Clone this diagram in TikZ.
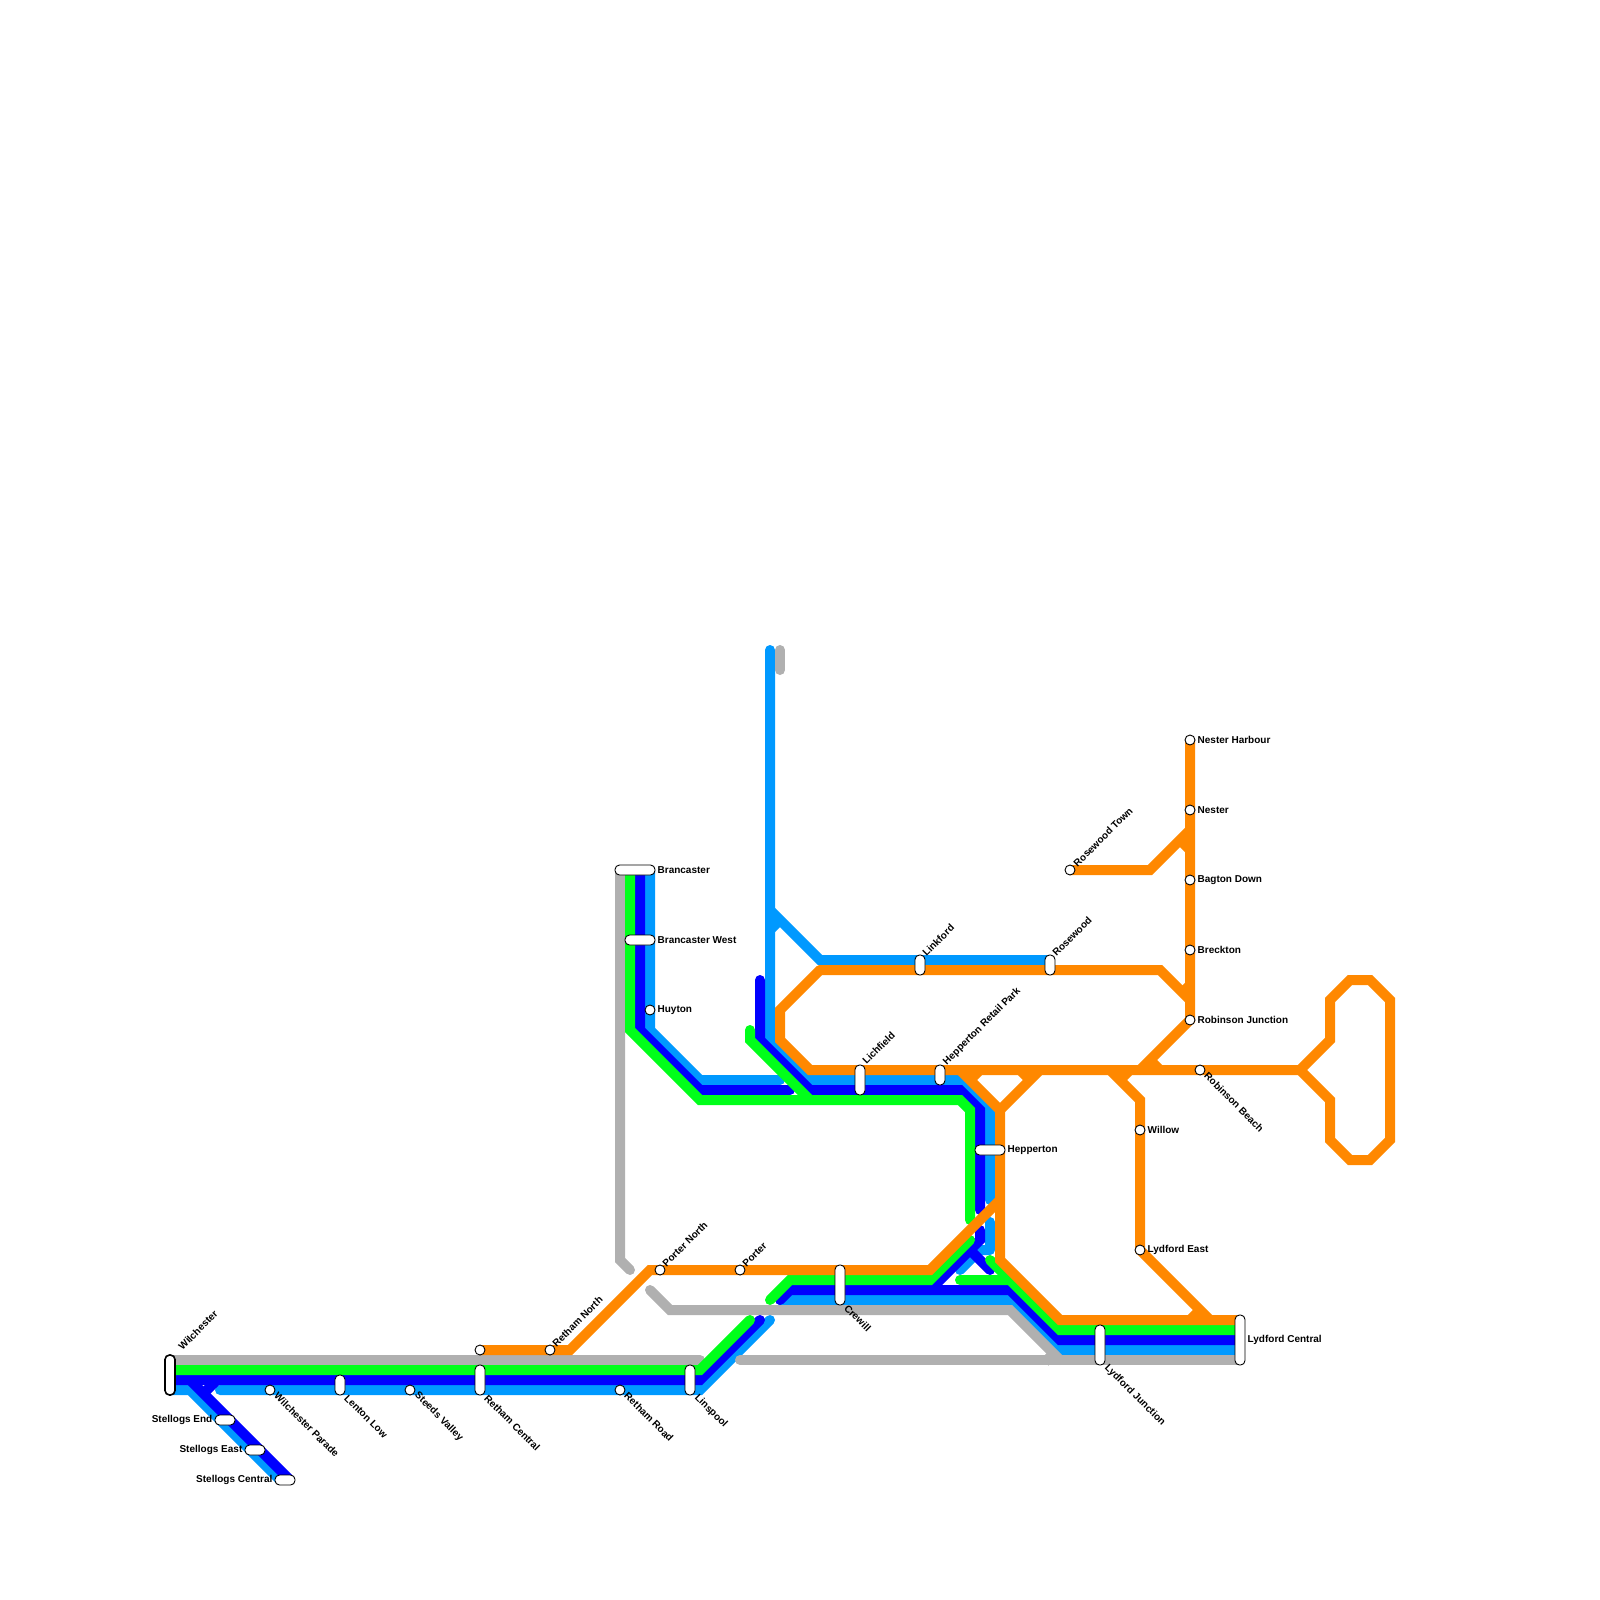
\documentclass[tikz,border=0pt]{standalone}
\usepackage{fontspec}
\setmainfont{Liberation Sans}
\usepackage{tikz}
\usetikzlibrary{positioning, backgrounds}
\definecolor{trackorange}{HTML}{FF8800}
\definecolor{trackgreen}{HTML}{00FF1A}
\definecolor{trackblue}{HTML}{0000FF}
\definecolor{tracksky}{HTML}{0099FF}
\definecolor{trackgrey}{HTML}{B0B0B0}

\begin{document}
\begin{tikzpicture}[
    x=1pt, y=-1pt,
    font=\fontsize{10}{12}\selectfont\bfseries,
    track/.style={line width=10pt, line cap=round, line join=miter},
    stub/.style={line width=10pt, line cap=butt},
    stop/.style={circle, draw, fill=white, line width=0.9pt, inner sep=0pt, minimum size=10pt},
    pill/.style={draw, fill=white, line width=0.9pt, rounded corners=4.5pt, inner sep=0pt},
    pillv/.style={pill, minimum width=10pt, minimum height=#1},
    pillh/.style={pill, minimum height=10pt, minimum width=#1},
    tagup/.style={rotate=45, anchor=west, inner sep=0pt},
    tagdown/.style={rotate=-45, anchor=west, inner sep=0pt},
    tagright/.style={anchor=west, inner sep=0pt, yshift=0.3pt},
    tagleft/.style={anchor=east, inner sep=0pt, yshift=0.3pt}
  ]
    \useasboundingbox (0,0) rectangle (1600,1600);

    % --- Stations: bottom left ---
    \node[pillv=40pt, line width=1.6pt] (wilchester) at (170,1375) {};
    \node[stop] (wilchesterparade) at (270,1390) {};
    \node[pillv=20pt] (lentonlow) at (340,1385) {};
    \node[stop] (steedsvalley) at (410,1390) {};
    \node[pillv=30pt] (rethamcentral) at (480,1380) {};
    \node[stop] (rethamroad) at (620,1390) {};
    \node[pillv=30pt] (linspool) at (690,1380) {};
    \node[pillh=20pt] (stellogsend) at (225,1420) {};
    \node[pillh=20pt] (stellogseast) at (255,1450) {};
    \node[pillh=20pt] (stellogscentral) at (285,1480) {};
    \node[stop] (rethamwest) at (480,1350) {};
    \node[stop] (rethamnorth) at (550,1350) {};
    \node[stop] (porternorth) at (660,1270) {};
    \node[stop] (porter) at (740,1270) {};
    \node[pillv=40pt] (crewill) at (840,1285) {};

    % --- Stations: middle ---
    \node[pillh=40pt] (brancaster) at (635,870) {};
    \node[pillh=30pt] (brancasterwest) at (640,940) {};
    \node[stop] (huyton) at (650,1010) {};
    \node[pillv=30pt] (lichfield) at (860,1080) {};
    \node[pillv=20pt] (hepretail) at (940,1075) {};
    \node[pillv=20pt] (linkford) at (920,965) {};
    \node[pillv=20pt] (rosewood) at (1050,965) {};
    \node[stop] (rosewoodtown) at (1070,870) {};
    \node[pillh=30pt] (hepperton) at (990,1150) {};

    % --- Stations: right ---
    \node[stop] (nesterharbour) at (1190,740) {};
    \node[stop] (nester) at (1190,810) {};
    \node[stop] (bagtondown) at (1190,880) {};
    \node[stop] (breckton) at (1190,950) {};
    \node[stop] (robinsonjunction) at (1190,1020) {};
    \node[stop] (robinsonbeach) at (1200,1070) {};
    \node[stop] (willow) at (1140,1130) {};
    \node[stop] (lydfordeast) at (1140,1250) {};
    \node[pillv=40pt] (lydfordjunction) at (1100,1345) {};
    \node[pillv=50pt] (lydfordcentral) at (1240,1340) {};

    % --- Station names ---
    \node[tagup] (t1) at ([shift={(10,-6)}]wilchester.north) {Wilchester};
    \node[tagdown] (t2) at ([shift={(6,4)}]wilchesterparade.center) {Wilchester Parade};
    \node[tagdown] (t3) at ([shift={(6,1)}]lentonlow.south) {Lenton Low};
    \node[tagdown] (t4) at ([shift={(6,4)}]steedsvalley.center) {Steeds Valley};
    \node[tagdown] (t5) at ([shift={(6,1)}]rethamcentral.south) {Retham Central};
    \node[tagdown] (t6) at ([shift={(6,4)}]rethamroad.center) {Retham Road};
    \node[tagdown] (t7) at ([shift={(6,1)}]linspool.south) {Linspool};
    \node[tagdown] (t8) at ([shift={(6,1)}]crewill.south) {Crewill};
    \node[tagdown] (t9) at ([shift={(6,1)}]lydfordjunction.south) {Lydford Junction};
    \node[tagdown] (t10) at ([shift={(6,4)}]robinsonbeach.center) {Robinson Beach};
    \node[tagup] (t11) at ([shift={(4,-5)}]rethamnorth.center) {Retham North};
    \node[tagup] (t12) at ([shift={(4,-5)}]porternorth.center) {Porter North};
    \node[tagup] (t13) at ([shift={(4,-5)}]porter.center) {Porter};
    \node[tagup] (t14) at ([shift={(4,-2)}]lichfield.north) {Lichfield};
    \node[tagup] (t15) at ([shift={(5,-1)}]hepretail.north) {Hepperton Retail Park};
    \node[tagup] (t16) at ([shift={(4,0)}]linkford.north) {Linkford};
    \node[tagup] (t17) at ([shift={(4,0)}]rosewood.north) {Rosewood};
    \node[tagup] (t18) at ([shift={(5,-5)}]rosewoodtown.center) {Rosewood Town};
    \node[tagleft, left=2pt of stellogsend] (t19) {Stellogs End};
    \node[tagleft, left=2pt of stellogseast] (t20) {Stellogs East};
    \node[tagleft, left=2pt of stellogscentral] (t21) {Stellogs Central};
    \node[tagright, right=2pt of brancaster] (t22) {Brancaster};
    \node[tagright, right=2pt of brancasterwest] (t23) {Brancaster West};
    \node[tagright, right=2pt of huyton] (t24) {Huyton};
    \node[tagright, right=2pt of hepperton] (t25) {Hepperton};
    \node[tagright, right=2pt of nesterharbour] (t26) {Nester Harbour};
    \node[tagright, right=2pt of nester] (t27) {Nester};
    \node[tagright, right=2pt of bagtondown] (t28) {Bagton Down};
    \node[tagright, right=2pt of breckton] (t29) {Breckton};
    \node[tagright, right=2pt of robinsonjunction] (t30) {Robinson Junction};
    \node[tagright, right=2pt of willow] (t31) {Willow};
    \node[tagright, right=2pt of lydfordeast] (t32) {Lydford East};
    \node[tagright, right=2pt of lydfordcentral] (t33) {Lydford Central};

    % --- Lines under the stations ---
    \begin{scope}[on background layer]
      % --- Sky blue ---
      \draw[track, tracksky] (170,1390) -- (190,1390) -- (280,1480);
      \draw[track, tracksky] (220,1390) -- (700,1390) -- (770,1320);
      \draw[track, tracksky] (650,870) -- (huyton.center) -- (650,1030) -- (700,1080) -- (780,1080);
      \draw[track, tracksky] (770,650) -- (770,1040) -- (810,1080) -- (960,1080) -- (990,1110) -- (990,1200);
      \draw[track, tracksky] (770,910) -- (820,960) -- (1050,960);
      \draw[stub, tracksky] (780,920) -- (770,930);
      \draw[track, tracksky, line join=round] (990,1222) -- (990,1250) -- (980,1250) -- (960,1270);
      \draw[track, tracksky, line cap=butt] (780,1310) -- (790,1300) -- (1010,1300) -- (1060,1350) -- (1240,1350);

      % --- Grey ---
      \draw[track, trackgrey] (780,650) -- (780,670);
      \draw[track, trackgrey] (620,870) -- (620,1260) -- (630,1270);
      \draw[track, trackgrey] (650,1290) -- (670,1310) -- (1010,1310) -- (1060,1360);
      \draw[track, trackgrey] (170,1360) -- (700,1360);
      \draw[track, trackgrey] (740,1360) -- (1240,1360);
      \draw[stub, trackgrey] (1053,1354) -- (1045,1362);

      % --- Blue ---
      \draw[track, trackblue] (170,1380) -- (700,1380) -- (760,1320);
      \draw[track, trackblue] (190,1380) -- (290,1480);
      \draw[stub, trackblue] (217,1380) -- (203,1394);
      \draw[track, trackblue] (640,870) -- (640,1030) -- (700,1090) -- (790,1090);
      \draw[track, trackblue] (760,980) -- (760,1040) -- (810,1090) -- (960,1090) -- (980,1110) -- (980,1210);
      \draw[track, trackblue] (980,1230) -- (980,1240) -- (930,1290);
      \draw[track, trackblue] (970,1250) -- (990,1270);
      \draw[track, trackblue] (780,1300) -- (790,1290) -- (1010,1290) -- (1060,1340) -- (1240,1340);

      % --- Green ---
      \draw[track, trackgreen] (170,1370) -- (700,1370) -- (750,1320);
      \draw[track, trackgreen] (630,870) -- (630,1030) -- (700,1100) -- (960,1100) -- (970,1110) -- (970,1220);
      \draw[track, trackgreen] (750,1030) -- (750,1040) -- (810,1100);
      \draw[track, trackgreen] (770,1300) -- (790,1280) -- (930,1280) -- (970,1240);
      \draw[track, trackgreen] (960,1280) -- (1010,1280) -- (1060,1330) -- (1240,1330);
      \draw[track, trackgreen] (990,1260) -- (1010,1280);

      % --- Orange ---
      \draw[track, trackorange] (rethamwest.center) -- (rethamnorth.center) -- (570,1350) -- (650,1270) -- (930,1270) -- (1000,1200);
      \draw[track, trackorange] (rosewoodtown.center) -- (1150,870) -- (1190,830);
      \draw[track, trackorange] (nesterharbour.center) -- (robinsonjunction.center) -- (1140,1070);
      \draw[track, trackorange] (820,970) -- (1160,970) -- (1190,1000);
      \draw[track, trackorange] (1300,1070) -- (810,1070) -- (780,1040) -- (780,1010) -- (820,970);
      \draw[track, trackorange] (960,1070) -- (1000,1110) -- (1000,1260) -- (1060,1320) -- (1240,1320);
      \draw[track, trackorange] (1040,1070) -- (1000,1110);
      \draw[track, trackorange] (1110,1070) -- (1140,1100) -- (willow.center) -- (lydfordeast.center) -- (1210,1320);
      \draw[track, trackorange] (1300,1070) -- (1330,1040) -- (1330,1000) -- (1350,980) -- (1370,980)
        -- (1390,1000) -- (1390,1140) -- (1370,1160) -- (1350,1160) -- (1330,1140) -- (1330,1100) -- cycle;
      \draw[stub, trackorange] (1020,1070) -- (1030,1080);
      \draw[stub, trackorange] (980,1070) -- (970,1080);
      \draw[stub, trackorange] (1130,1070) -- (1120,1080);
      \draw[stub, trackorange] (1150,1060) -- (1160,1070);
      \draw[stub, trackorange] (1180,840) -- (1190,850);
      \draw[stub, trackorange] (1190,985) -- (1180,995);
      \draw[stub, trackorange] (1200,1310) -- (1190,1320);
    \end{scope}

\end{tikzpicture}
\end{document}
